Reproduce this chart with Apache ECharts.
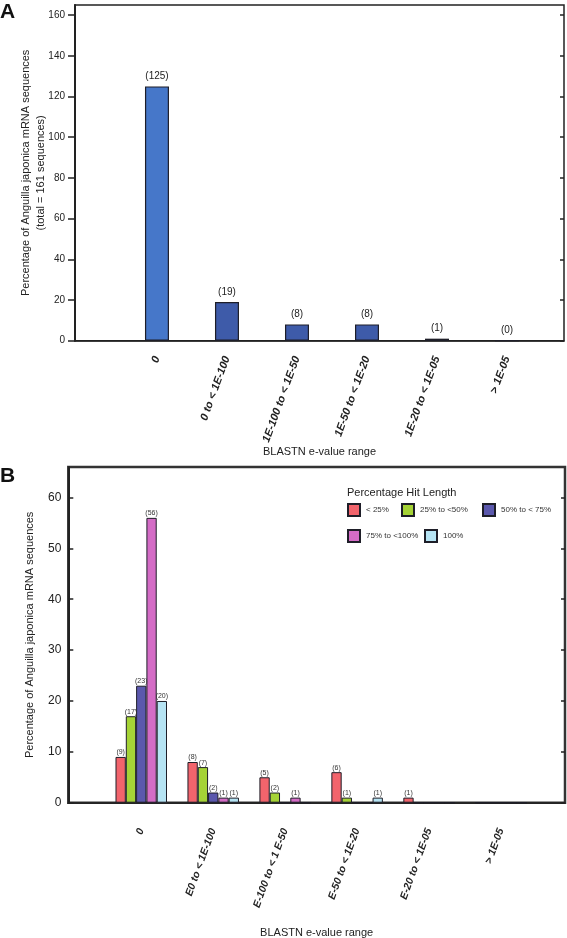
<!DOCTYPE html>
<html>
<head>
<meta charset="utf-8">
<script src="https://cdn.jsdelivr.net/npm/echarts@6.0.0/dist/echarts.min.js"></script>
<style>
html,body{margin:0;padding:0;background:#fff;}
#chart{width:567px;height:938px;}
</style>
</head>
<body>
<div id="chart"></div>
<script>
// ---- data ----
const catsA = ['0', '0 to < 1E-100', '1E-100 to < 1E-50', '1E-50 to < 1E-20', '1E-20 to < 1E-05', '> 1E-05'];
const valuesA = [125, 19, 8, 8, 1, 0];

const catsB = ['0', 'E0 to < 1E-100', 'E-100 to < 1 E-50', 'E-50 to < 1E-20', 'E-20 to < 1E-05', '> 1E-05'];
const seriesNamesB = ['< 25%', '25% to <50%', '50% to < 75%', '75% to <100%', '100%'];
const lt25 = [9, 8, 5, 6, 1, 0];
const p25to50 = [17, 7, 2, 1, 0, 0];
const p50to75 = [23, 2, 0, 0, 0, 0];
const p75to100 = [56, 1, 1, 0, 0, 0];
const p100 = [20, 1, 0, 1, 0, 0];
const valuesB = [lt25, p25to50, p50to75, p75to100, p100];

const yTicksA = [0, 20, 40, 60, 80, 100, 120, 140, 160];
const yTicksB = [0, 10, 20, 30, 40, 50, 60];

// ---- styling ----
const FONT = 'Liberation Sans, Arial, Helvetica, sans-serif';
const colorsB = ['#f2646c', '#a5d336', '#5b58ad', '#d46cc6', '#b6e4f4'];
const edge = '#1e1e28';
const idx = catsA.map((_, i) => i);

const chart = echarts.init(document.getElementById('chart'), null, {renderer: 'canvas'});

const series = [];
series.push({
  type: 'bar', xAxisIndex: 0, yAxisIndex: 0,
  data: valuesA.map((v, i) => [idx[i], v]),
  barWidth: 24,
  itemStyle: {
    color: p => p.dataIndex === 0 ? '#4677c9' : '#3e5ba9',
    borderColor: edge, borderWidth: 1.2
  },
  label: {
    show: true, position: 'top', distance: 5,
    formatter: p => '(' + p.value[1] + ')',
    fontFamily: FONT, fontSize: 10, color: '#222'
  }
});
valuesB.forEach((arr, s) => {
  series.push({
    name: seriesNamesB[s],
    type: 'bar', xAxisIndex: 1, yAxisIndex: 2,
    data: arr.map((v, i) => [idx[i], v]),
    barWidth: 10.3, barGap: '0%',
    itemStyle: {color: colorsB[s], borderColor: edge, borderWidth: 1},
    label: {
      show: true, position: 'top', distance: 1,
      formatter: p => p.value[1] === 0 ? '' : '(' + p.value[1] + ')',
      fontFamily: FONT, fontSize: 7, color: '#333'
    }
  });
});

function legendAt(name, left, top) {
  return {
    data: [name], left: left, top: top, padding: 0,
    itemWidth: 12, itemHeight: 12, icon: 'rect', itemGap: 5,
    selectedMode: false,
    textStyle: {fontFamily: FONT, fontSize: 8, color: '#333', padding: [0, 0, 0, 1]}
  };
}

const option = {
  backgroundColor: '#fff',
  animation: false,
  textStyle: {fontFamily: FONT},
  title: [
    {text: 'A', left: 0, top: 2, padding: 0, textStyle: {fontFamily: FONT, fontSize: 21, fontWeight: 'bold', color: '#111'}},
    {text: 'B', left: 0, top: 466, padding: 0, textStyle: {fontFamily: FONT, fontSize: 21, fontWeight: 'bold', color: '#111'}},
    {text: 'Percentage Hit Length', left: 347, top: 487, padding: 0, textStyle: {fontFamily: FONT, fontSize: 11, fontWeight: 'normal', color: '#222'}}
  ],
  legend: [
    legendAt(seriesNamesB[0], 347, 503),
    legendAt(seriesNamesB[1], 401, 503),
    legendAt(seriesNamesB[2], 482, 503),
    legendAt(seriesNamesB[3], 347, 529),
    legendAt(seriesNamesB[4], 424, 529)
  ],
  grid: [
    {left: 75, top: 5, width: 489, height: 335.7, show: true, borderColor: '#222', borderWidth: 1.5, outerBoundsMode: 'none', containLabel: false},
    {left: 68.3, top: 467, width: 496.7, height: 335.7, show: true, borderColor: '#333', borderWidth: 2.5, outerBoundsMode: 'none', containLabel: false}
  ],
  xAxis: [
    {
      type: 'value', gridIndex: 0, min: -1.171, max: 5.814,
      axisLine: {show: true, onZero: false, lineStyle: {color: '#222', width: 1.5}},
      axisTick: {show: false}, splitLine: {show: false},
      axisLabel: {
        customValues: idx, rotate: 70, margin: 16,
        formatter: v => catsA[Math.round(v)],
        fontFamily: FONT, fontSize: 11, fontWeight: 'bold', fontStyle: 'italic', color: '#222'
      },
      name: 'BLASTN e-value range', nameLocation: 'middle', nameGap: 106, nameMoveOverlap: false,
      nameTextStyle: {fontFamily: FONT, fontSize: 11, color: '#222'}
    },
    {
      type: 'value', gridIndex: 1, min: -1.014, max: 5.889,
      axisLine: {show: true, onZero: false, lineStyle: {color: '#222', width: 1.5}},
      axisTick: {show: false}, splitLine: {show: false},
      axisLabel: {
        customValues: idx, rotate: 70, margin: 26,
        formatter: v => catsB[Math.round(v)],
        fontFamily: FONT, fontSize: 10.5, fontWeight: 'bold', fontStyle: 'italic', color: '#222'
      },
      name: 'BLASTN e-value range', nameLocation: 'middle', nameGap: 125, nameMoveOverlap: false,
      nameTextStyle: {fontFamily: FONT, fontSize: 11, color: '#222'}
    }
  ],
  yAxis: [
    {
      type: 'value', gridIndex: 0, min: 0, max: 165, interval: 20,
      axisLine: {show: true, onZero: false, lineStyle: {color: '#222', width: 2}},
      axisTick: {show: true, length: 7, lineStyle: {color: '#222', width: 1.5}, customValues: yTicksA},
      axisLabel: {customValues: yTicksA, margin: 10, fontFamily: FONT, fontSize: 10, color: '#222'},
      splitLine: {show: false},
      name: 'Percentage of Anguilla japonica mRNA sequences\n(total = 161 sequences)',
      nameLocation: 'middle', nameRotate: 90, nameGap: 27, nameMoveOverlap: false,
      nameTextStyle: {fontFamily: FONT, fontSize: 11, color: '#222', lineHeight: 15, align: 'center'}
    },
    {
      type: 'value', gridIndex: 0, position: 'right', min: 0, max: 165, interval: 20,
      axisLine: {show: false, onZero: false},
      axisTick: {show: true, inside: true, length: 4, lineStyle: {color: '#222', width: 1.5}, customValues: yTicksA},
      axisLabel: {show: false}, splitLine: {show: false}
    },
    {
      type: 'value', gridIndex: 1, min: 0, max: 66, interval: 10,
      axisLine: {show: true, onZero: false, lineStyle: {color: '#222', width: 2}},
      axisTick: {show: true, inside: true, length: 5, lineStyle: {color: '#222', width: 1.5}, customValues: yTicksB},
      axisLabel: {customValues: yTicksB, margin: 7, fontFamily: FONT, fontSize: 12, color: '#222'},
      splitLine: {show: false},
      name: 'Percentage of Anguilla japonica mRNA sequences',
      nameLocation: 'middle', nameRotate: 90, nameGap: 33, nameMoveOverlap: false,
      nameTextStyle: {fontFamily: FONT, fontSize: 11, color: '#222'}
    },
    {
      type: 'value', gridIndex: 1, position: 'right', min: 0, max: 66, interval: 10,
      axisLine: {show: false, onZero: false},
      axisTick: {show: true, inside: true, length: 4, lineStyle: {color: '#222', width: 1.5}, customValues: yTicksB},
      axisLabel: {show: false}, splitLine: {show: false}
    }
  ],
  series: series
};
chart.setOption(option);
</script>
</body>
</html>
